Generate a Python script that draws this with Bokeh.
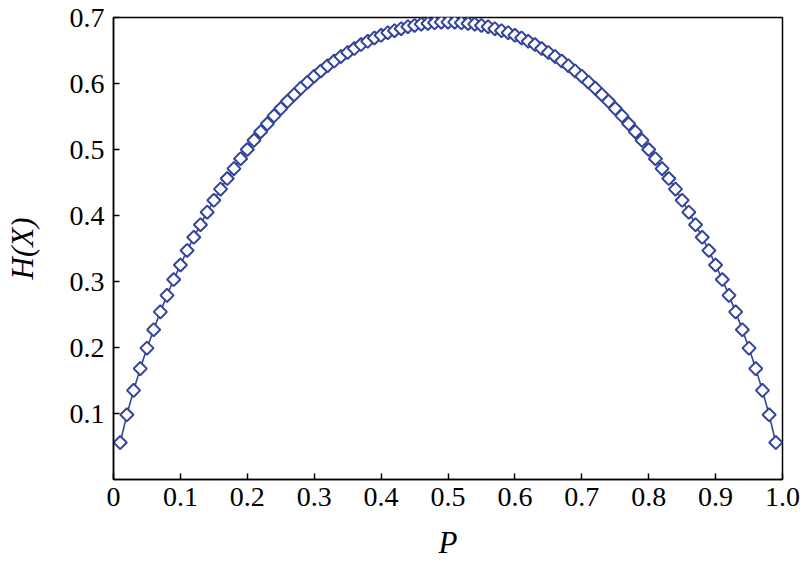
from bokeh.plotting import figure
from bokeh.models import Range1d, FixedTicker
from bokeh.embed import file_html
from bokeh.resources import INLINE

# Data: probability P and entropy H(X)
p_values = [0.01, 0.02, 0.03, 0.04, 0.05, 0.06, 0.07, 0.08, 0.09, 0.10,
            0.11, 0.12, 0.13, 0.14, 0.15, 0.16, 0.17, 0.18, 0.19, 0.20,
            0.21, 0.22, 0.23, 0.24, 0.25, 0.26, 0.27, 0.28, 0.29, 0.30,
            0.31, 0.32, 0.33, 0.34, 0.35, 0.36, 0.37, 0.38, 0.39, 0.40,
            0.41, 0.42, 0.43, 0.44, 0.45, 0.46, 0.47, 0.48, 0.49, 0.50,
            0.51, 0.52, 0.53, 0.54, 0.55, 0.56, 0.57, 0.58, 0.59, 0.60,
            0.61, 0.62, 0.63, 0.64, 0.65, 0.66, 0.67, 0.68, 0.69, 0.70,
            0.71, 0.72, 0.73, 0.74, 0.75, 0.76, 0.77, 0.78, 0.79, 0.80,
            0.81, 0.82, 0.83, 0.84, 0.85, 0.86, 0.87, 0.88, 0.89, 0.90,
            0.91, 0.92, 0.93, 0.94, 0.95, 0.96, 0.97, 0.98, 0.99]
h_values = [0.056, 0.098, 0.135, 0.168, 0.199, 0.227, 0.254, 0.279, 0.303, 0.325,
            0.347, 0.367, 0.386, 0.405, 0.423, 0.440, 0.456, 0.471, 0.486, 0.500,
            0.514, 0.527, 0.539, 0.551, 0.562, 0.573, 0.583, 0.593, 0.602, 0.611,
            0.619, 0.627, 0.634, 0.641, 0.647, 0.653, 0.659, 0.664, 0.669, 0.673,
            0.677, 0.680, 0.683, 0.686, 0.688, 0.690, 0.691, 0.692, 0.693, 0.693,
            0.693, 0.692, 0.691, 0.690, 0.688, 0.686, 0.683, 0.680, 0.677, 0.673,
            0.669, 0.664, 0.659, 0.653, 0.647, 0.641, 0.634, 0.627, 0.619, 0.611,
            0.602, 0.593, 0.583, 0.573, 0.562, 0.551, 0.539, 0.527, 0.514, 0.500,
            0.486, 0.471, 0.456, 0.440, 0.423, 0.405, 0.386, 0.367, 0.347, 0.325,
            0.303, 0.279, 0.254, 0.227, 0.199, 0.168, 0.135, 0.098, 0.056]

x_ticks = [0.0, 0.1, 0.2, 0.3, 0.4, 0.5, 0.6, 0.7, 0.8, 0.9, 1.0]
x_tick_labels = ["0", "0.1", "0.2", "0.3", "0.4", "0.5", "0.6", "0.7", "0.8", "0.9", "1.0"]
y_ticks = [0.1, 0.2, 0.3, 0.4, 0.5, 0.6, 0.7]
y_tick_labels = ["0.1", "0.2", "0.3", "0.4", "0.5", "0.6", "0.7"]

FONT = "Liberation Serif"
COLOR = "#34449a"

p = figure(width=800, height=568, output_backend="svg", toolbar_location=None,
           x_range=Range1d(0, 1), y_range=Range1d(0, 0.7),
           min_border_left=113, min_border_right=18, min_border_top=17, min_border_bottom=89)

p.line(p_values, h_values, line_color=COLOR, line_width=1.6)
p.scatter(p_values, h_values, marker="square", angle=0.785398, size=9.3,
          fill_color="white", line_color=COLOR, line_width=2)

p.xgrid.visible = False
p.ygrid.visible = False
p.outline_line_color = "black"
p.outline_line_width = 1.5
p.background_fill_color = "white"
p.border_fill_color = "white"

for ax in (p.xaxis[0], p.yaxis[0]):
    ax.axis_line_color = "black"
    ax.axis_line_width = 1.5
    ax.major_tick_in = 6
    ax.major_tick_out = 0
    ax.major_tick_line_width = 1.5
    ax.minor_tick_line_color = None
    ax.major_label_text_font = FONT
    ax.major_label_text_font_size = "28px"
    ax.major_label_text_color = "black"
    ax.axis_label_text_font = FONT
    ax.axis_label_text_font_size = "31px"
    ax.axis_label_text_font_style = "italic"
    ax.axis_label_text_color = "black"

p.xaxis[0].ticker = FixedTicker(ticks=x_ticks)
p.xaxis[0].major_label_overrides = {t: l for t, l in zip(x_ticks, x_tick_labels)}
p.xaxis[0].major_label_standoff = 8
p.xaxis[0].axis_label = "P"
p.xaxis[0].axis_label_standoff = 16

p.yaxis[0].ticker = FixedTicker(ticks=y_ticks)
p.yaxis[0].major_label_overrides = {t: l for t, l in zip(y_ticks, y_tick_labels)}
p.yaxis[0].major_label_standoff = 9
p.yaxis[0].axis_label = "H(X)"
p.yaxis[0].axis_label_standoff = 27

open("out.html", "w").write(file_html(p, INLINE))
